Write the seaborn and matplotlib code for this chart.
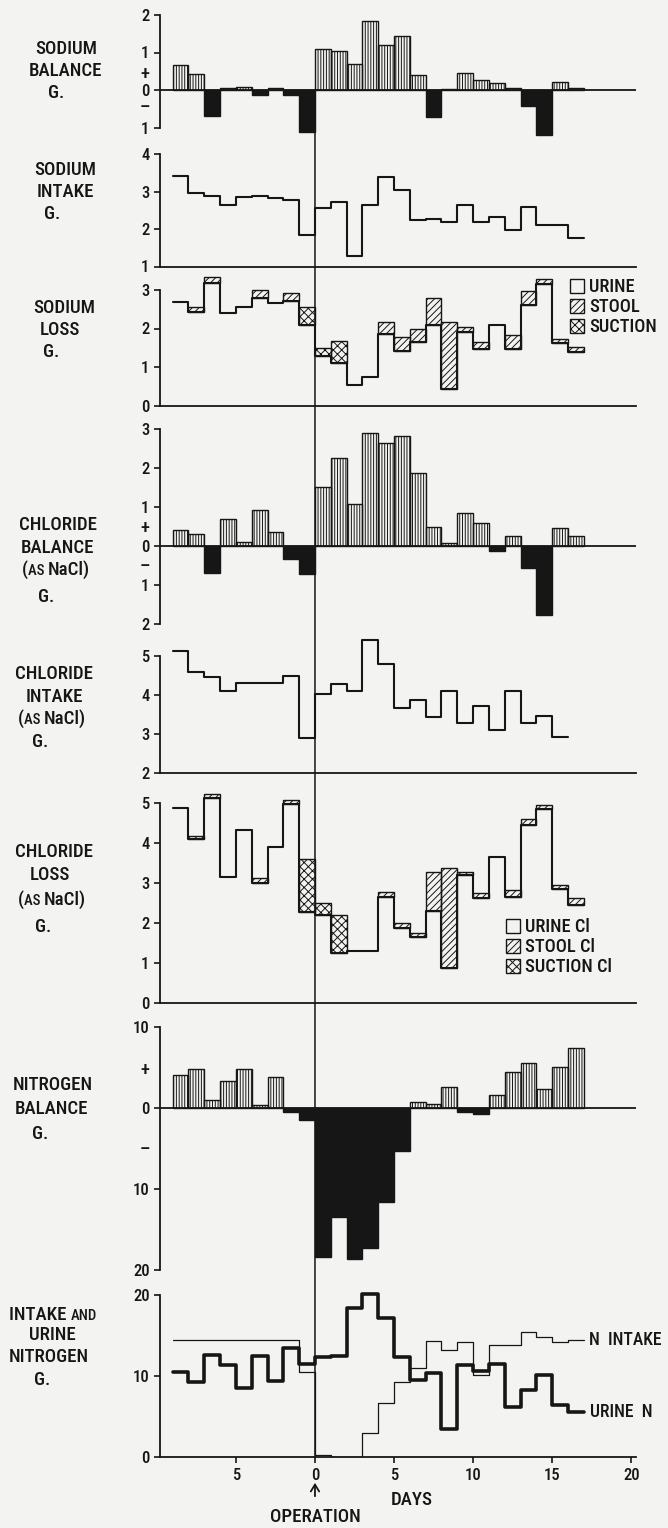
import os
import numpy as np
import matplotlib
matplotlib.use("Agg")
import matplotlib.pyplot as plt
from matplotlib import font_manager as fm
from matplotlib.patches import Patch, ConnectionPatch, FancyArrowPatch
import seaborn as sns

# ---------------------------------------------------------------
# Daily balance data (grams); each period runs from its start day
# to the next day, day 0 = operation.
# ---------------------------------------------------------------
days = [-9, -8, -7, -6, -5, -4, -3, -2, -1,
        0, 1, 2, 3, 4, 5, 6, 7, 8, 9, 10, 11, 12, 13, 14, 15, 16]

sodium_balance = [0.67, 0.43, -0.70, 0.05, 0.07, -0.12, 0.05, -0.12, -1.12,
                  1.10, 1.05, 0.70, 1.83, 1.20, 1.43, 0.40, -0.71, 0.04,
                  0.45, 0.27, 0.18, 0.05, -0.42, -1.19, 0.22, 0.05]

sodium_intake = [3.42, 2.97, 2.87, 2.63, 2.85, 2.88, 2.84, 2.78, 1.85,
                 2.55, 2.71, 1.27, 2.65, 3.40, 3.04, 2.23, 2.27, 2.20,
                 2.65, 2.20, 2.33, 1.98, 2.58, 2.10, 2.10, 1.77]

sodium_urine = [2.70, 2.44, 3.19, 2.40, 2.57, 2.78, 2.66, 2.72, 2.09,
                1.29, 1.10, 0.53, 0.73, 1.86, 1.41, 1.64, 2.09, 0.43,
                1.90, 1.47, 2.09, 1.47, 2.61, 3.15, 1.62, 1.39]
sodium_stool = [0.00, 0.13, 0.14, 0.00, 0.00, 0.22, 0.00, 0.19, 0.00,
                0.00, 0.00, 0.00, 0.00, 0.32, 0.38, 0.34, 0.69, 1.75,
                0.13, 0.17, 0.00, 0.37, 0.37, 0.13, 0.11, 0.14]
sodium_suction = [0.00, 0.00, 0.00, 0.00, 0.00, 0.00, 0.00, 0.00, 0.48,
                  0.20, 0.58, 0.00, 0.00, 0.00, 0.00, 0.00, 0.00, 0.00,
                  0.00, 0.00, 0.00, 0.00, 0.00, 0.00, 0.00, 0.00]

chloride_balance = [0.41, 0.30, -0.68, 0.70, 0.09, 0.92, 0.35, -0.34, -0.71,
                    1.51, 2.26, 1.07, 2.91, 2.63, 2.81, 1.88, 0.49, 0.08,
                    0.85, 0.60, -0.14, 0.25, -0.57, -1.76, 0.47, 0.25]

chloride_intake = [5.14, 4.60, 4.47, 4.09, 4.30, 4.30, 4.30, 4.49, 2.90,
                   4.02, 4.27, 4.09, 5.42, 4.79, 3.66, 3.87, 3.44, 4.09,
                   3.27, 3.71, 3.09, 4.11, 3.27, 3.47, 2.92]

chloride_urine = [4.87, 4.10, 5.12, 3.14, 4.33, 3.01, 3.89, 4.97, 2.28,
                  2.20, 1.24, 1.30, 1.30, 2.66, 1.88, 1.64, 2.30, 0.87,
                  3.20, 2.62, 3.64, 2.66, 4.45, 4.85, 2.84, 2.45]
chloride_stool = [0.00, 0.08, 0.10, 0.00, 0.00, 0.11, 0.00, 0.10, 0.00,
                  0.00, 0.00, 0.00, 0.00, 0.12, 0.12, 0.12, 0.98, 2.50,
                  0.08, 0.12, 0.00, 0.17, 0.14, 0.10, 0.11, 0.17]
chloride_suction = [0.00, 0.00, 0.00, 0.00, 0.00, 0.00, 0.00, 0.00, 1.32,
                    0.30, 0.96, 0.00, 0.00, 0.00, 0.00, 0.00, 0.00, 0.00,
                    0.00, 0.00, 0.00, 0.00, 0.00, 0.00, 0.00, 0.00]

nitrogen_balance = [4.1, 4.8, 1.0, 3.3, 4.8, 0.4, 3.8, -0.45, -1.5,
                    -18.4, -13.5, -18.6, -17.3, -11.6, -5.3, 0.7, 0.45, 2.55,
                    -0.45, -0.8, 1.6, 4.5, 5.6, 2.3, 5.1, 7.45]

nitrogen_intake = [14.5, 14.5, 14.5, 14.5, 14.5, 14.5, 14.5, 14.5, 10.5,
                   0.3, 0.0, 0.0, 3.0, 6.7, 9.2, 11.0, 14.3, 13.2,
                   14.2, 10.1, 13.8, 13.8, 15.4, 14.8, 14.2, 14.5]

urine_nitrogen = [10.5, 9.3, 12.6, 11.4, 8.5, 12.5, 9.4, 13.5, 11.5,
                  12.3, 12.5, 18.4, 20.1, 17.2, 12.3, 9.5, 10.4, 3.5,
                  11.4, 10.6, 11.5, 6.2, 8.3, 10.1, 6.4, 5.6]

x_ticks = [-5, 0, 5, 10, 15, 20]
x_labels = ["5", "0", "5", "10", "15", "20"]

# ---------------------------------------------------------------
INK = "#161616"
PAPER = "#f3f3f1"

sns.set_theme(style="ticks")
plt.rcParams["font.family"] = ["Liberation Sans", "DejaVu Sans"]
plt.rcParams["hatch.linewidth"] = 0.7
plt.rcParams["hatch.color"] = INK
plt.rcParams["text.color"] = INK
plt.rcParams["axes.edgecolor"] = INK
plt.rcParams["xtick.color"] = INK
plt.rcParams["ytick.color"] = INK


def pick_lettering_font():
    """Prefer a medium (else regular) narrow/condensed sans face."""
    prefs = ["liberationsansnarrow", "robotocondensed", "notosans",
             "dejavusans", "opensans", "liberation", "roboto"]
    skip = ("bold", "italic", "oblique", "light", "thin",
            "black", "heavy", "extra", "ultra", "semi", "demi")
    found = []
    for f in fm.fontManager.ttflist:
        base = os.path.basename(f.fname).lower()
        if not ("condensed" in base or "narrow" in base):
            continue
        if any(s in base for s in skip):
            continue
        key = base.replace("-", "").replace("_", "")
        rank = next((i for i, p in enumerate(prefs) if key.startswith(p)), 99)
        weight_rank = 0 if "medium" in base else 1
        found.append((rank, weight_rank, f.fname))
    if found:
        found.sort()
        return fm.FontProperties(fname=found[0][2])
    return fm.FontProperties(family="Liberation Sans")


BASE_PROP = pick_lettering_font()

W, H = 668, 1528
fig = plt.figure(figsize=(W / 100, H / 100), dpi=100, facecolor=PAPER)
renderer = fig.canvas.get_renderer()


def text_width(s, size):
    p = BASE_PROP.copy()
    p.set_size(size)
    t = fig.text(0, 0, s, fontproperties=p)
    w = t.get_window_extent(renderer).width
    t.remove()
    return w


# size the lettering so a word like CHLORIDE spans ~78 px
LABEL_FS = min(14.0, 13.5 * 78.0 / text_width("CHLORIDE", 13.5))
SMALL_FS = LABEL_FS * 0.78
TICK_FS = min(12.0, LABEL_FS * 0.88)


def prop(size):
    p = BASE_PROP.copy()
    p.set_size(size)
    return p


X_LEFT, X_RIGHT = 160, 636
XLIM = (-9.8, 20.3)


def add_panel(ref_val, ref_px, ppu, ylim, bounds):
    top = ref_px - (ylim[1] - ref_val) * ppu
    bot = ref_px + (ref_val - ylim[0]) * ppu
    ax = fig.add_axes([X_LEFT / W, 1 - bot / H, (X_RIGHT - X_LEFT) / W, (bot - top) / H])
    ax.set_facecolor("none")
    ax.set_xlim(XLIM)
    ax.set_ylim(ylim)
    for side in ("top", "right"):
        ax.spines[side].set_visible(False)
    ax.spines["left"].set_bounds(*bounds)
    ax.spines["left"].set_linewidth(1.3)
    ax.spines["bottom"].set_linewidth(1.3)
    ax.tick_params(axis="x", bottom=False, labelbottom=False)
    ax.tick_params(axis="y", direction="out", length=4.5, width=1.2, pad=3)
    return ax


def set_yticks(ax, ticks, labels, bare=()):
    ax.set_yticks(ticks)
    ax.set_yticklabels(labels)
    for tk, lbl, val in zip(ax.yaxis.get_major_ticks(), ax.get_yticklabels(), ticks):
        if val in bare:
            tk.tick1line.set_visible(False)
            lbl.set_fontproperties(prop(TICK_FS * 1.12))
        else:
            lbl.set_fontproperties(prop(TICK_FS))


def step_line(ax, values, lw):
    n = len(values)
    xs = days[:n] + [days[n - 1] + 1]
    ys = list(values) + [values[-1]]
    sns.lineplot(x=xs, y=ys, drawstyle="steps-post", color=INK, lw=lw,
                 errorbar=None, estimator=None, legend=False, ax=ax)


def balance_bars(ax, values):
    d = np.array(days)
    v = np.array(values)
    pos = v >= 0
    ax.bar(d[pos], v[pos], width=1, align="edge", facecolor="none",
           edgecolor=INK, hatch="||||||", linewidth=1.0)
    ax.bar(d[~pos], v[~pos], width=1, align="edge", color=INK,
           edgecolor=INK, linewidth=1.0)
    ax.spines["bottom"].set_visible(False)
    ax.axhline(0, color=INK, lw=1.3)


def loss_bars(ax, urine, stool, suction):
    d = np.array(days)
    u = np.array(urine)
    s = np.array(stool)
    c = np.array(suction)
    m = s > 0
    ax.bar(d[m], s[m], bottom=u[m], width=1, align="edge", facecolor="none",
           edgecolor=INK, hatch="/////", linewidth=1.0)
    m = c > 0
    ax.bar(d[m], c[m], bottom=(u + s)[m], width=1, align="edge",
           facecolor="none", edgecolor=INK, hatch="xxxx", linewidth=1.0)
    step_line(ax, urine, 1.5)


def loss_legend(ax, labels, x_px, y_px):
    handles = [
        Patch(facecolor="none", edgecolor=INK, lw=1.0, label=labels[0]),
        Patch(facecolor="none", edgecolor=INK, lw=1.0, hatch="/////", label=labels[1]),
        Patch(facecolor="none", edgecolor=INK, lw=1.0, hatch="xxxx", label=labels[2]),
    ]
    ax.legend(handles=handles, loc="upper left",
              bbox_to_anchor=(x_px / W, 1 - y_px / H),
              bbox_transform=fig.transFigure, frameon=False,
              prop=prop(LABEL_FS * 0.97), handlelength=0.75, handleheight=0.8,
              handletextpad=0.3, labelspacing=0.12, borderpad=0,
              borderaxespad=0)


def side_label(lines):
    """Each line is centred at (x, y) px; a line may mix full and small capitals."""
    for pieces, x, y in lines:
        if isinstance(pieces, str):
            pieces = [(pieces, LABEL_FS)]
        widths = [text_width(s, fs) for s, fs in pieces]
        left = x - sum(widths) / 2
        for (s, fs), w in zip(pieces, widths):
            fig.text(left / W, 1 - y / H, s, ha="left", va="baseline",
                     fontproperties=prop(fs), transform=fig.transFigure)
            left += w


AS_NACL = [("(", LABEL_FS), ("AS ", SMALL_FS), ("NaCl)", LABEL_FS)]

# Sodium balance
ax1 = add_panel(0, 90, 37.5, (-1.25, 2.05), (-1, 2))
balance_bars(ax1, sodium_balance)
set_yticks(ax1, [2, 1, 0.47, 0, -0.42, -1], ["2", "1", "+", "0", "–", "1"],
           bare=(0.47, -0.42))
side_label([("SODIUM", 66, 54), ("BALANCE", 66, 76), ("G.", 56, 98)])

# Sodium intake
ax2 = add_panel(1, 266.5, 37.5, (1, 4.05), (1, 4))
step_line(ax2, sodium_intake, 1.5)
set_yticks(ax2, [1, 2, 3, 4], ["1", "2", "3", "4"])
side_label([("SODIUM", 65, 175), ("INTAKE", 65, 197), ("G.", 52, 219)])

# Sodium loss
ax3 = add_panel(0, 405.5, 38.5, (0, 3.4), (0, 3))
loss_bars(ax3, sodium_urine, sodium_stool, sodium_suction)
set_yticks(ax3, [0, 1, 2, 3], ["0", "1", "2", "3"])
loss_legend(ax3, ["URINE", "STOOL", "SUCTION"], 570, 278)
side_label([("SODIUM", 64, 313), ("LOSS", 60, 335), ("G.", 51, 357)])

# Chloride balance
ax4 = add_panel(0, 546, 39, (-2.05, 3.05), (-2, 3))
balance_bars(ax4, chloride_balance)
set_yticks(ax4, [3, 2, 1, 0.5, 0, -0.5, -1, -2],
           ["3", "2", "1", "+", "0", "–", "1", "2"], bare=(0.5, -0.5))
side_label([("CHLORIDE", 58, 530), ("BALANCE", 58, 553),
            (AS_NACL, 56, 575), ("G.", 46, 602)])

# Chloride intake
ax5 = add_panel(2, 773, 39, (2, 5.55), (2, 5))
step_line(ax5, chloride_intake, 1.5)
set_yticks(ax5, [2, 3, 4, 5], ["2", "3", "4", "5"])
side_label([("CHLORIDE", 54, 679), ("INTAKE", 54, 702),
            (AS_NACL, 52, 724), ("G.", 40, 747)])

# Chloride loss
ax6 = add_panel(0, 1003, 40, (0, 5.35), (0, 5))
loss_bars(ax6, chloride_urine, chloride_stool, chloride_suction)
set_yticks(ax6, [0, 1, 2, 3, 4, 5], ["0", "1", "2", "3", "4", "5"])
loss_legend(ax6, ["URINE Cl", "STOOL Cl", "SUCTION Cl"], 506, 918)
side_label([("CHLORIDE", 54, 857), ("LOSS", 50, 880),
            (AS_NACL, 52, 905), ("G.", 43, 932)])

# Nitrogen balance
ax7 = add_panel(0, 1108, 8.1, (-20.3, 10.3), (-20, 10))
balance_bars(ax7, nitrogen_balance)
set_yticks(ax7, [10, 4.9, 0, -4.9, -10, -20],
           ["10", "+", "0", "–", "10", "20"], bare=(4.9, -4.9))
side_label([("NITROGEN", 53, 1090), ("BALANCE", 52, 1114), ("G.", 40, 1139)])

# Intake and urine nitrogen
ax8 = add_panel(0, 1457, 8.1, (0, 20.8), (0, 20))
step_line(ax8, nitrogen_intake, 0.9)
step_line(ax8, urine_nitrogen, 2.6)
set_yticks(ax8, [0, 10, 20], ["0", "10", "20"])
ax8.set_xticks(x_ticks)
ax8.set_xticklabels(x_labels)
ax8.tick_params(axis="x", bottom=True, labelbottom=True, direction="out",
                length=4, width=1.2, pad=4)
for lbl in ax8.get_xticklabels():
    lbl.set_fontproperties(prop(TICK_FS))
ax8.text(17.3, 14.5, "N  INTAKE", va="center", ha="left",
         fontproperties=prop(LABEL_FS * 0.93))
ax8.text(17.4, 5.6, "URINE  N", va="center", ha="left",
         fontproperties=prop(LABEL_FS * 0.93))
side_label([([("INTAKE ", LABEL_FS), ("AND", SMALL_FS)], 53, 1320),
            ("URINE", 52, 1340), ("NITROGEN", 49, 1362), ("G.", 42, 1385)])

# Operation marker running through all panels
op_line = ConnectionPatch(xyA=(0, 0), coordsA=ax1.transData,
                          xyB=(0, 0), coordsB=ax8.transData,
                          color=INK, lw=1.1)
fig.add_artist(op_line)

op_x = ax8.transData.transform((0, 0))[0] / W
fig.add_artist(FancyArrowPatch(
    (op_x, 1 - 1499 / H), (op_x, 1 - 1480 / H), transform=fig.transFigure,
    arrowstyle="->,head_length=5,head_width=3", color=INK, lw=1.3))
fig.text(op_x, 1 - 1517 / H, "OPERATION", ha="center", va="center",
         fontproperties=prop(LABEL_FS))
fig.text(412 / W, 1 - 1500 / H, "DAYS", ha="center", va="center",
         fontproperties=prop(LABEL_FS))

fig.savefig("out.png", dpi=100, facecolor=PAPER)
